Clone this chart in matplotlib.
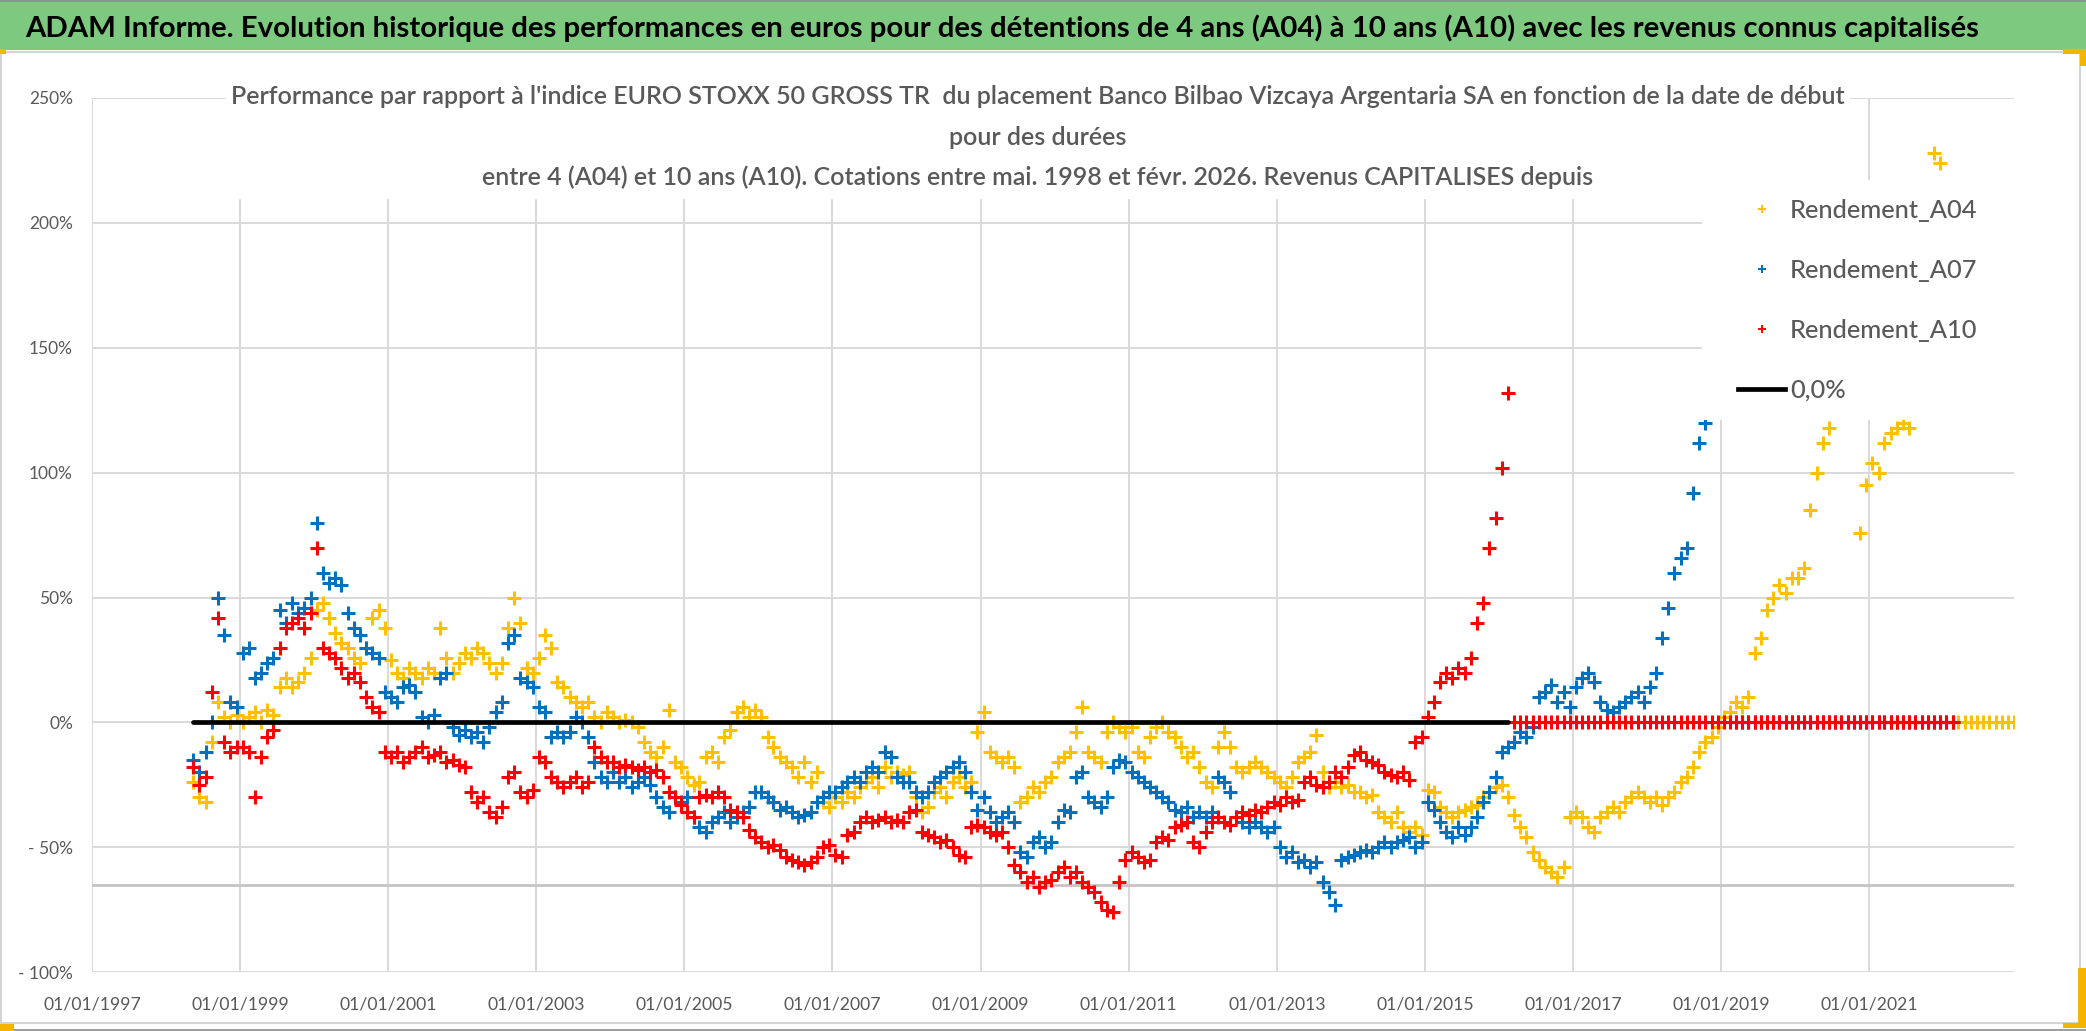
import matplotlib
matplotlib.use('Agg')
import matplotlib.pyplot as plt
from matplotlib.lines import Line2D
from matplotlib.patches import Rectangle
from matplotlib import font_manager
import pandas as pd

# ---------------- data ----------------
start_month = '1998-05-01'

a04 = [
    -24, -30, -32, -8, 8, 2, 0, 3,                                   # 1998 May-Dec
    0, 2, 4, 0, 5, 3, 14, 18, 14, 16, 20, 26,                        # 1999
    45, 48, 42, 36, 32, 30, 26, 24, 30, 42, 45, 38,                  # 2000
    25, 20, 18, 22, 20, 18, 22, 20, 38, 26, 20, 24,                  # 2001
    28, 26, 30, 28, 24, 20, 24, 38, 50, 40, 22, 20,                  # 2002
    26, 35, 30, 16, 14, 10, 8, 6, 8, 2, 0, 4,                        # 2003
    2, 0, 1, 0, -2, -8, -12, -14, -10, 5, -16, -18,                  # 2004
    -22, -25, -24, -14, -12, -16, -6, -3, 4, 6, 2, 5,                # 2005
    2, -6, -10, -14, -16, -18, -22, -16, -24, -20, -32, -34,         # 2006
    -30, -32, -28, -30, -26, -24, -22, -26, -18, -22, -20, -21,      # 2007
    -20, -30, -36, -34, -28, -26, -30, -24, -22, -26, -24, -4,       # 2008
    4, -12, -14, -16, -14, -18, -32, -30, -26, -28, -24, -22,        # 2009
    -16, -14, -12, -4, 6, -12, -14, -16, -4, 0, -2, -4,              # 2010
    -2, -12, -14, -6, -2, 0, -4, -6, -10, -14, -12, -18,             # 2011
    -24, -26, -10, -4, -10, -18, -20, -18, -16, -18, -20, -22,       # 2012
    -24, -26, -22, -16, -14, -12, -5, -20, -26, -24, -26, -25,       # 2013
    -28, -28, -30, -29, -36, -38, -40, -36, -42, -44, -42, -45,      # 2014
    -27, -28, -34, -36, -38, -36, -35, -34, -33, -30, -28, -26,      # 2015
    -25, -30, -37, -42, -46, -52, -55, -58, -60, -62, -58, -38,      # 2016
    -36, -38, -42, -44, -38, -36, -34, -36, -32, -30, -28, -30,      # 2017
    -32, -30, -33, -30, -28, -24, -22, -18, -12, -8, -6, -2,         # 2018
    2, 4, 8, 6, 10, 28, 34, 45, 50, 55, 52, 58,                      # 2019
    58, 62, 85, 100, 112, 118, 135, 150, 145, 130, 76, 95,           # 2020
    104, 100, 112, 116, 118, 120, 118, 150, 170, 200, 228, 224,      # 2021
    190, 180,                                                        # 2022 Jan-Feb
]
a04_zero_tail = [0] * 10          # 2022 Mar-Dec

a07 = [
    -15, -20, -12, 0, 50, 35, 8, 6,                                  # 1998
    28, 30, 18, 20, 24, 26, 45, 40, 48, 44, 46, 50,                  # 1999
    80, 60, 56, 58, 55, 44, 38, 35, 30, 28, 26, 12,                  # 2000
    10, 8, 14, 15, 12, 2, 0, 3, 18, 20, -2, -5,                      # 2001
    -3, -6, -4, -8, -2, 4, 8, 32, 35, 18, 16, 14,                    # 2002
    6, 4, -6, -4, -6, -4, 2, 0, -6, -16, -22, -24,                   # 2003
    -20, -24, -22, -26, -24, -22, -25, -30, -34, -36, -30, -32,      # 2004
    -30, -38, -42, -44, -40, -38, -36, -40, -38, -36, -34, -28,      # 2005
    -28, -30, -32, -35, -34, -36, -38, -37, -36, -32, -30, -28,      # 2006
    -28, -26, -24, -22, -24, -20, -18, -20, -12, -14, -22, -24,      # 2007
    -24, -28, -30, -28, -24, -22, -20, -18, -16, -20, -28, -35,      # 2008
    -30, -36, -40, -38, -36, -40, -52, -54, -48, -46, -50, -48,      # 2009
    -40, -35, -36, -22, -20, -30, -32, -34, -30, -18, -15, -16,      # 2010
    -20, -22, -24, -26, -28, -30, -32, -35, -36, -34, -38, -36,      # 2011
    -38, -36, -22, -24, -28, -38, -40, -42, -40, -42, -44, -42,      # 2012
    -50, -54, -52, -56, -55, -58, -56, -64, -68, -73, -55, -54,      # 2013
    -53, -52, -51, -52, -50, -48, -50, -48, -47, -46, -50, -48,      # 2014
    -32, -35, -40, -44, -46, -42, -45, -42, -38, -32, -28, -22,      # 2015
    -12, -10, -8, -4, -6, -2, 10, 12, 15, 8, 12, 6,                  # 2016
    14, 18, 20, 16, 8, 5, 4, 6, 8, 10, 12, 8,                        # 2017
    14, 20, 34, 46, 60, 66, 70, 92, 112, 120, 135, 140,              # 2018
    150, 145,                                                        # 2019 Jan-Feb
]
a07_zero_tail = [0] * 36          # 2019 Mar - 2022 Feb

a10 = [
    -18, -25, -22, 12, 42, -8, -12, -10,                             # 1998
    -10, -12, -30, -14, -6, -3, 30, 38, 40, 42, 38, 44,              # 1999
    70, 30, 28, 26, 22, 18, 20, 16, 10, 6, 4, -12,                   # 2000
    -14, -12, -16, -14, -12, -10, -14, -13, -12, -16, -15, -17,      # 2001
    -18, -28, -32, -30, -36, -38, -34, -22, -20, -28, -30, -27,      # 2002
    -14, -16, -22, -24, -26, -24, -22, -26, -24, -10, -14, -16,      # 2003
    -16, -18, -17, -18, -19, -18, -20, -19, -22, -28, -30, -33,      # 2004
    -36, -38, -30, -29, -30, -28, -30, -35, -36, -38, -43, -46,      # 2005
    -48, -50, -49, -51, -54, -55, -56, -57, -56, -54, -50, -49,      # 2006
    -53, -54, -45, -44, -40, -38, -40, -39, -38, -40, -39, -40,      # 2007
    -36, -35, -44, -45, -46, -48, -47, -50, -53, -54, -42, -41,      # 2008
    -42, -44, -45, -44, -50, -57, -60, -64, -62, -66, -64, -63,      # 2009
    -60, -58, -62, -60, -64, -66, -68, -72, -75, -76, -64, -55,      # 2010
    -52, -54, -56, -55, -48, -46, -47, -42, -41, -40, -48, -50,      # 2011
    -44, -40, -38, -40, -41, -38, -36, -37, -35, -36, -34, -32,      # 2012
    -33, -30, -32, -31, -24, -22, -25, -26, -24, -20, -22, -18,      # 2013
    -13, -12, -15, -16, -17, -20, -21, -22, -20, -23, -8, -6,        # 2014
    2, 8, 16, 20, 18, 22, 20, 26, 40, 48, 70, 82,                    # 2015
    102, 132,                                                        # 2016 Jan-Feb
]
a10_zero_tail = [0] * 72          # 2016 Mar - 2022 Feb

series_names = ['Rendement_A04', 'Rendement_A07', 'Rendement_A10']
zero_label = '0,0%'
y_ticks = [-100, -50, 0, 50, 100, 150, 200, 250]
y_tick_labels = ['- 100%', '- 50%', '0%', '50%', '100%', '150%', '200%', '250%']
x_tick_years = [1997, 1999, 2001, 2003, 2005, 2007, 2009, 2011, 2013, 2015, 2017, 2019, 2021]
x_min, x_max = '1997-01-01', '2022-12-15'
axis_cross_value = -65

main_title = ("ADAM Informe. Evolution historique des performances en euros pour des détentions "
              "de 4 ans (A04) à 10 ans (A10) avec les revenus connus capitalisés")
chart_title_lines = [
    "Performance par rapport à l'indice EURO STOXX 50 GROSS TR  du placement Banco Bilbao "
    "Vizcaya Argentaria SA en fonction de la date de début",
    "pour des durées",
    "entre 4 (A04) et 10 ans (A10). Cotations entre mai. 1998 et févr. 2026. Revenus CAPITALISES depuis",
]

# ---------------- styling ----------------
C04, C07, C10 = '#FFC000', '#0070C0', '#FF0000'
GRAY_TXT = '#595959'
GRID = '#D9D9D9'
W, H = 2086, 1031

names = {f.name for f in font_manager.fontManager.ttflist}
FONT = 'Lato' if 'Lato' in names else 'DejaVu Sans'
plt.rcParams['font.family'] = [FONT, 'DejaVu Sans']

fig = plt.figure(figsize=(W / 100, H / 100), dpi=100)
fig.patch.set_facecolor('white')
renderer = fig.canvas.get_renderer()


def fx(px):
    return px / W


def fy(py):
    return 1 - py / H


def fit_size(s, target_px, weight='normal', base=20.0):
    t = fig.text(0, 0, s, fontsize=base, fontweight=weight)
    bb = t.get_window_extent(renderer=renderer)
    t.remove()
    return base * target_px / bb.width


def text_height(s, size, weight='normal'):
    t = fig.text(0, 0, s, fontsize=size, fontweight=weight)
    bb = t.get_window_extent(renderer=renderer)
    t.remove()
    return bb.height


# frame decorations
fig.patches.append(Rectangle((0, fy(50)), 1, 50 / H, transform=fig.transFigure,
                             facecolor='#7DC97F', edgecolor='none', zorder=1))
fig.patches.append(Rectangle((fx(1), fy(1023)), fx(2079), (1023 - 52) / H, transform=fig.transFigure,
                             facecolor='none', edgecolor='#D4D4D4', lw=1.5, zorder=1))
fig.lines.append(Line2D([0, 1], [fy(0.8), fy(0.8)], transform=fig.transFigure, color='#8C8C8C', lw=1.2))
fig.lines.append(Line2D([0, 1], [fy(1030), fy(1030)], transform=fig.transFigure, color='#8C8C8C', lw=1.2))
for (x0, y0, x1, y1) in [(0, 49, 6, 54), (2063, 49, 2086, 54), (2080, 49, 2086, 66),
                         (2078, 968, 2086, 1028), (2063, 1023, 2086, 1028), (0, 1024, 14, 1031)]:
    fig.patches.append(Rectangle((fx(x0), fy(y1)), fx(x1 - x0), (y1 - y0) / H,
                                 transform=fig.transFigure, facecolor='#F5B400',
                                 edgecolor='none', zorder=2))

# main title
fs_main = fit_size(main_title, 1960, weight='bold')
fig.text(fx(25), fy(28), main_title, ha='left', va='center', fontsize=fs_main,
         fontweight='bold', color='black', zorder=4)

# axes
ax_left, ax_right, ax_top, ax_bottom = 92, 2014, 97.7, 972.4
ax = fig.add_axes([fx(ax_left), fy(ax_bottom), fx(ax_right - ax_left), (ax_bottom - ax_top) / H])
ax.set_facecolor('white')
for sp in ax.spines.values():
    sp.set_visible(False)

dates04 = pd.date_range(start_month, periods=len(a04) + len(a04_zero_tail), freq='MS') + pd.Timedelta(days=14)
dates07 = pd.date_range(start_month, periods=len(a07) + len(a07_zero_tail), freq='MS') + pd.Timedelta(days=14)
dates10 = pd.date_range(start_month, periods=len(a10) + len(a10_zero_tail), freq='MS') + pd.Timedelta(days=14)

mk = dict(ls='none', marker='+', ms=9.5, mew=2.2)
ax.plot(dates04, a04 + a04_zero_tail, color=C04, zorder=3, **mk)
ax.plot(dates07, a07 + a07_zero_tail, color=C07, zorder=4, **mk)
ax.plot(dates10, a10 + a10_zero_tail, color=C10, zorder=5, **mk)
zero_dates = dates10[:len(a10)]
ax.plot(zero_dates, [0.0] * len(zero_dates), color='black', lw=3.4, zorder=6, solid_capstyle='round')

ax.axhline(axis_cross_value, color='#C4C4C4', lw=2.0, zorder=1.5)

ax.set_xlim(pd.Timestamp(x_min), pd.Timestamp(x_max))
ax.set_ylim(-100, 250)
ax.set_yticks(y_ticks)
ax.set_xticks([pd.Timestamp(f'{y}-01-01') for y in x_tick_years])
ax.set_xticklabels([f'01/01/{y}' for y in x_tick_years])
ax.set_yticklabels(y_tick_labels)
ax.grid(True, color=GRID, lw=1.4, zorder=0)
ax.set_axisbelow(True)

fs_x = fit_size('01/01/1997', 98)
fs_y = fit_size('250%', 44)
hx = text_height('01/01/1997', fs_x)
ax.tick_params(axis='x', length=0, labelsize=fs_x, labelcolor=GRAY_TXT,
               pad=(1005 - ax_bottom - hx / 2) * 72 / 100)
ax.tick_params(axis='y', length=0, labelsize=fs_y, labelcolor=GRAY_TXT,
               pad=(ax_left - 73) * 72 / 100)

# chart title with white background
fs_t = fit_size(chart_title_lines[0], 1613, weight='semibold')
fig.patches.append(Rectangle((fx(226), fy(199)), fx(1850 - 226), (199 - 78) / H,
                             transform=fig.transFigure, facecolor='white', edgecolor='none', zorder=2.5))
for line, yc in zip(chart_title_lines, [97, 137, 177]):
    fig.text(fx(1038), fy(yc), line, ha='center', va='center', fontsize=fs_t,
             fontweight='semibold', color=GRAY_TXT, zorder=3)

# legend with white box
ax.add_patch(Rectangle((fx(1702), fy(420)), fx(2014 - 1702), (420 - 180) / H,
                       transform=fig.transFigure, facecolor='white', edgecolor='none',
                       zorder=7, clip_on=False))
fs_leg = fit_size(series_names[0], 187, weight='medium')
fs_leg_px = fs_leg * 100 / 72
h_leg = text_height(series_names[0], fs_leg, weight='medium')
handles = [
    Line2D([], [], ls='none', marker='+', ms=6, mew=1.4, color=C04),
    Line2D([], [], ls='none', marker='+', ms=6, mew=1.4, color=C07),
    Line2D([], [], ls='none', marker='+', ms=6, mew=1.4, color=C10),
    Line2D([], [], color='black', lw=3.4),
]
leg = ax.legend(handles, series_names + [zero_label], loc='upper left',
                bbox_to_anchor=(fx(1738), fy(210 - h_leg / 2)), bbox_transform=fig.transFigure,
                frameon=False, prop={'size': fs_leg, 'weight': 'medium'}, borderpad=0, borderaxespad=0,
                handlelength=47 / fs_leg_px, handletextpad=5 / fs_leg_px,
                labelspacing=(60 - h_leg) / fs_leg_px, labelcolor=GRAY_TXT)
leg.set_zorder(8)

fig.savefig('out.png', dpi=100, facecolor='white')
